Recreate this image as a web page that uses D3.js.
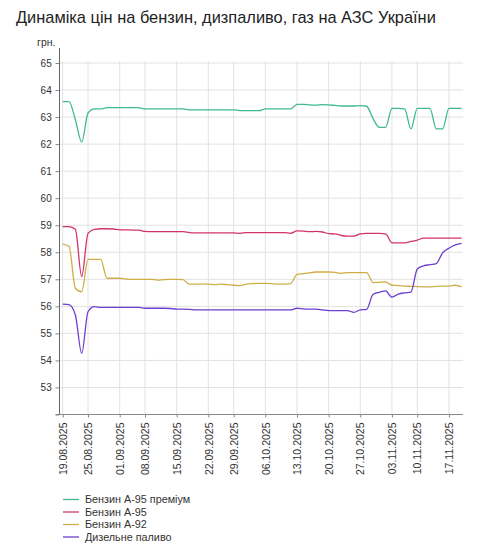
<!DOCTYPE html>
<html><head><meta charset="utf-8">
<script src="https://cdn.jsdelivr.net/npm/d3@7"></script>
<style>body{margin:0;background:#fff;}svg{display:block;font-family:"Liberation Sans",Arial,sans-serif;}</style>
</head><body><svg id="c" width="490" height="552"></svg>
<script>
const dates = ["19.08","20.08","21.08","22.08",
"25.08","26.08","27.08","28.08","29.08",
"01.09","02.09","03.09","04.09",
"08.09","09.09","10.09","11.09","12.09",
"15.09","16.09","17.09","18.09","19.09",
"22.09","23.09","24.09","25.09",
"29.09","30.09","01.10","02.10","03.10",
"06.10","07.10","08.10","09.10","10.10",
"13.10","14.10","15.10","16.10","17.10",
"20.10","21.10","22.10","23.10","24.10",
"27.10","28.10","29.10","30.10","31.10",
"03.11","04.11","05.11","06.11",
"10.11","11.11","12.11","13.11","14.11",
"17.11","18.11","19.11"];
const tickDates = ["19.08","25.08","01.09","08.09","15.09","22.09","29.09","06.10","13.10","20.10","27.10","03.11","10.11","17.11"];
const yTicks = [52,53,54,55,56,57,58,59,60,61,62,63,64,65];
const seriesNames = ["Бензин А-95 преміум","Бензин А-95","Бензин А-92","Дизельне паливо"];
const premium = [63.57,63.57,62.9,62.07,63.15,63.30,63.30,63.35,63.35,63.35,63.35,63.35,63.35,
63.30,63.30,63.30,63.30,63.30,63.30,63.30,63.27,63.27,63.27,63.27,63.27,63.27,63.27,63.27,
63.24,63.24,63.24,63.24,63.30,63.30,63.30,63.30,63.30,
63.47,63.47,63.45,63.44,63.46,63.45,63.43,63.41,63.41,63.41,63.42,63.40,62.95,62.62,62.62,
63.32,63.32,63.30,62.56,63.32,63.32,63.32,62.56,62.56,63.32,63.32,63.32];
const a95 = [58.95,58.95,58.85,57.10,58.70,58.85,58.87,58.87,58.86,58.83,58.83,58.82,58.82,
58.77,58.76,58.76,58.76,58.76,58.76,58.76,58.73,58.72,58.72,58.72,58.72,58.72,58.72,58.72,
58.70,58.73,58.73,58.73,58.73,58.73,58.73,58.73,58.70,
58.79,58.78,58.76,58.77,58.75,58.69,58.68,58.62,58.60,58.60,58.68,58.70,58.70,58.70,58.68,
58.35,58.35,58.35,58.40,58.45,58.52,58.52,58.52,58.52,58.52,58.52,58.52];
const a92 = [58.30,58.22,56.67,56.54,57.74,57.74,57.74,57.04,57.04,57.04,57.01,57.00,57.00,
57.00,57.00,56.97,56.99,57.00,57.00,56.99,56.82,56.82,56.82,56.82,56.80,56.82,56.80,56.78,
56.77,56.82,56.84,56.85,56.85,56.84,56.82,56.82,56.84,
57.18,57.21,57.24,57.27,57.27,57.27,57.26,57.22,57.25,57.25,57.25,57.25,56.88,56.89,56.90,
56.78,56.77,56.75,56.74,56.73,56.72,56.72,56.74,56.75,56.75,56.78,56.72];
const diesel = [56.08,56.06,55.68,54.26,55.80,55.99,55.96,55.96,55.96,55.96,55.96,55.96,55.96,
55.93,55.93,55.93,55.93,55.92,55.90,55.90,55.89,55.87,55.87,55.87,55.87,55.87,55.87,55.87,
55.87,55.87,55.87,55.87,55.87,55.87,55.87,55.87,55.87,
55.93,55.91,55.90,55.90,55.87,55.84,55.84,55.84,55.84,55.78,55.87,55.89,56.44,56.52,56.57,
56.34,56.45,56.50,56.53,57.38,57.50,57.54,57.58,57.98,58.15,58.27,58.33];
const colors = ["#3fb896","#d2336e","#cfae48","#6c3fd0"];

const svg = d3.select("#c");
const pLeft = 59.5, pRight = 463, pTop = 63, pBottom = 414.5;
const x = d3.scalePoint().domain(dates).range([62.7, 461.6]);
const y = d3.scaleLinear().domain([52,65]).range([pBottom, pTop]);

svg.append("text").attr("x",16).attr("y",23).attr("font-size",16.4).attr("fill","#222")
  .text("Динаміка цін на бензин, дизпаливо, газ на АЗС України");

// grid
const g = svg.append("g");
g.selectAll(".hg").data(yTicks.slice(1)).join("line")
  .attr("x1",pLeft).attr("x2",pRight).attr("y1",d=>y(d)).attr("y2",d=>y(d))
  .attr("stroke","#e2e2e2").attr("stroke-width",1);
g.selectAll(".vg").data(tickDates).join("line")
  .attr("x1",d=>x(d)).attr("x2",d=>x(d)).attr("y1",pTop-2).attr("y2",pBottom)
  .attr("stroke","#e2e2e2").attr("stroke-width",1);

// y axis
const yAxis = d3.axisLeft(y).tickValues(yTicks).tickSize(4).tickFormat(d=>d===52?"":d);
const ya = svg.append("g").attr("transform",`translate(${pLeft},0)`).call(yAxis);
ya.select(".domain").remove();
ya.selectAll(".tick line").attr("stroke","#888");
ya.selectAll(".tick text").attr("font-size",10).attr("fill","#333").attr("font-family","Liberation Sans, Arial, sans-serif").attr("x",-7.8);
svg.append("line").attr("x1",pLeft).attr("x2",pLeft).attr("y1",48).attr("y2",pBottom).attr("stroke","#666");
svg.append("text").attr("x",46.3).attr("y",46).attr("text-anchor","middle").attr("font-size",10.5).attr("fill","#333").text("грн.");

// x axis
const xAxis = d3.axisBottom(x).tickValues(tickDates).tickSize(3).tickFormat(d=>d+".2025");
const xa = svg.append("g").attr("transform",`translate(0,${pBottom})`).call(xAxis);
xa.select(".domain").remove();
xa.selectAll(".tick line").attr("stroke","#888");
xa.selectAll(".tick text").attr("font-size",10.5).attr("fill","#333").attr("font-family","Liberation Sans, Arial, sans-serif")
  .attr("transform","rotate(-90)").attr("text-anchor","end").attr("x",-8).attr("y",0).attr("dy","0.35em");
svg.append("line").attr("x1",pLeft-4).attr("x2",pRight).attr("y1",pBottom).attr("y2",pBottom).attr("stroke","#888");

// lines
const all = [premium,a95,a92,diesel];
const line = d3.line().x((d,i)=>x(dates[i])).y(d=>y(d)).curve(d3.curveMonotoneX);
svg.selectAll(".ln").data(all).join("path")
  .attr("d",d=>line(d)).attr("fill","none").attr("stroke",(d,i)=>colors[i]).attr("stroke-width",1.3);

// legend
const lg = svg.append("g");
seriesNames.forEach((n,i)=>{
  const yy = 499.5 + i*12.5;
  lg.append("line").attr("x1",63).attr("x2",79).attr("y1",yy).attr("y2",yy).attr("stroke",colors[i]).attr("stroke-width",1.3);
  lg.append("text").attr("x",85).attr("y",yy).attr("dy","0.35em").attr("font-size",10.8).attr("fill","#333").text(n);
});
</script></body></html>
